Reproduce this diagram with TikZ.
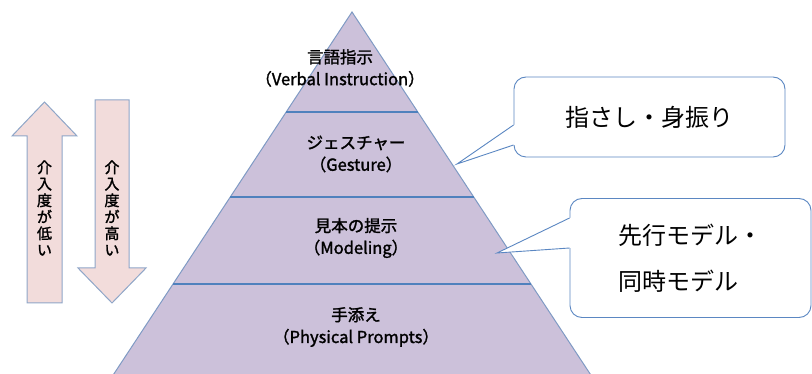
\documentclass[tikz,border=0pt]{standalone}
\usepackage{fontspec}
\setmainfont{Noto Sans CJK JP}
\newfontfamily\heavyjp[FakeBold=1.6]{Noto Sans CJK JP}
\usetikzlibrary{calc}
\definecolor{pyrfill}{HTML}{CCC1DA}
\definecolor{pyredge}{HTML}{7F9AC4}
\definecolor{divline}{HTML}{4F81BD}
\definecolor{arrfill}{HTML}{F2DCDB}
\definecolor{arredge}{HTML}{8FA6C8}
\definecolor{calledge}{HTML}{5B87C2}
\begin{document}
\begin{tikzpicture}[x=1pt,y=-1pt,
  lvl/.style={align=center,font=\heavyjp\fontsize{16.5}{22}\selectfont,inner sep=0pt},
  vtext/.style={align=center,font=\heavyjp\fontsize{15}{16.5}\selectfont,inner sep=0pt},
  callbox/.style={draw=calledge,line width=0.9pt,fill=white,rounded corners=12pt,
    font=\fontsize{24}{46}\selectfont},
  pointer/.style={draw=calledge,line width=0.9pt},
  divider/.style={draw=divline,line width=1.2pt},
  arrowshape/.style={fill=arrfill,draw=arredge,line width=1pt}]
\useasboundingbox (0,0) rectangle (812,374);
\begin{scope}
\clip (0,0) rectangle (812,374);
% pyramid
\coordinate (apex) at (352,12);
\coordinate (bl) at (103.3,390);
\coordinate (br) at (600.7,390);
\filldraw[fill=pyrfill,draw=pyredge,line width=1pt] (apex) -- (bl) -- (br) -- cycle;
\draw[divider] ($(apex)!0.2646!(bl)$) -- ($(apex)!0.2646!(br)$);
\draw[divider] ($(apex)!0.4894!(bl)$) -- ($(apex)!0.4894!(br)$);
\draw[divider] ($(apex)!0.7196!(bl)$) -- ($(apex)!0.7196!(br)$);
\end{scope}
% level labels
\node[lvl] (l1) at (340,68) {言語指示\\（Verbal Instruction）};
\node[lvl] (l2) at (356,154) {ジェスチャー\\（Gesture）};
\node[lvl] (l3) at (356,238) {見本の提示\\（Modeling）};
\node[lvl] (l4) at (356,327) {手添え\\（Physical Prompts）};
% arrows
\filldraw[arrowshape] (44.5,102) -- (77,136) -- (62,136) -- (62,303) -- (27,303) -- (27,136) -- (12,136) -- cycle;
\filldraw[arrowshape] (95,100) -- (129,100) -- (129,268) -- (146,268) -- (112,303) -- (78,268) -- (95,268) -- cycle;
\node[vtext] (up) at (44.5,208) {介\\入\\度\\が\\低\\い};
\node[vtext] (down) at (112,208) {介\\入\\度\\が\\高\\い};
% callout 1
\node[callbox,minimum width=271pt,minimum height=80pt] (c1) at (649.5,117) {指さし・身振り};
\coordinate (t1) at (457,164);
\coordinate (a1) at ($(c1.west)+(0,8)$);
\coordinate (b1) at ($(c1.west)+(0,28)$);
\fill[white] ($(a1)+(1.5,0)$) -- (a1) -- (t1) -- (b1) -- ($(b1)+(1.5,0)$) -- cycle;
\draw[pointer] (a1) -- (t1) -- (b1);
% callout 2
\node[callbox,minimum width=241pt,minimum height=119pt,align=left] (c2) at (690.5,258) {先行モデル・\\同時モデル};
\coordinate (t2) at (497,253);
\coordinate (a2) at ($(c2.west)+(0,-40)$);
\coordinate (b2) at ($(c2.west)+(0,-10)$);
\fill[white] ($(a2)+(1.5,0)$) -- (a2) -- (t2) -- (b2) -- ($(b2)+(1.5,0)$) -- cycle;
\draw[pointer] (a2) -- (t2) -- (b2);
\end{tikzpicture}
\end{document}
